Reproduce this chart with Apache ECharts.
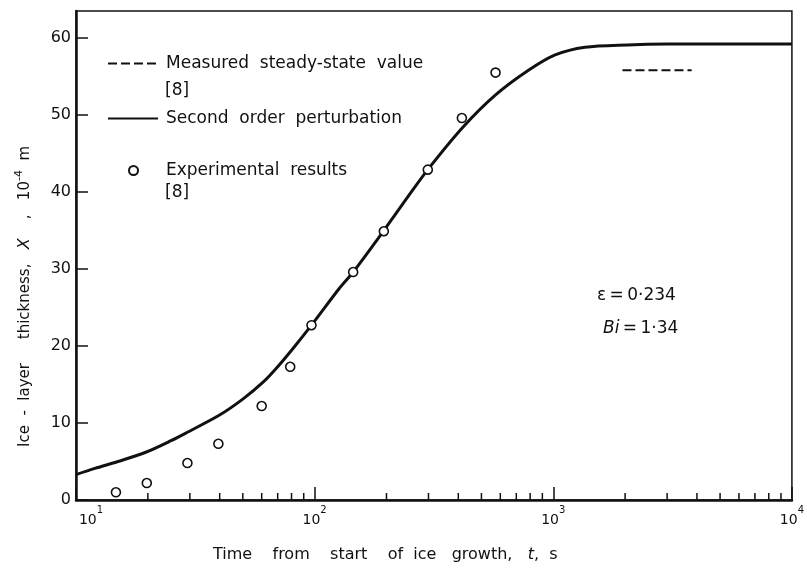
<!DOCTYPE html>
<html>
<head>
<meta charset="utf-8">
<script src="https://cdn.jsdelivr.net/npm/echarts@6/dist/echarts.min.js"></script>
<style>
  html, body { margin: 0; padding: 0; background: #fff; }
  #chart { width: 807px; height: 568px; }
</style>
</head>
<body>
<div id="chart"></div>
<script>
// second order perturbation curve
var curveT = [10, 12, 15, 19.6, 25, 29.3, 39.8, 50, 61.3, 70, 81.8, 97, 127, 145, 194, 219, 241, 298, 418, 573, 787, 1018, 1359, 2040, 3000, 5000, 10000];
var curveY = [3.3, 4.1, 5.0, 6.2, 7.7, 8.8, 11.0, 13.1, 15.4, 17.3, 19.8, 22.7, 27.5, 29.6, 34.9, 37.2, 39.0, 42.9, 48.4, 52.6, 55.8, 57.8, 58.8, 59.1, 59.2, 59.2, 59.2];

// experimental results [8]
var expT = [14.7, 19.8, 29.3, 39.5, 60, 79, 97, 145, 195, 298, 414, 573];
var expY = [1.0, 2.2, 4.8, 7.3, 12.2, 17.3, 22.7, 29.6, 34.9, 42.9, 49.6, 55.5];

// measured steady-state value
var steadyT = [1950, 3800];
var steadyY = [55.8, 55.8];

// minor ticks of the log axis
var minorTicks = [20, 30, 40, 50, 60, 70, 80, 90, 200, 300, 400, 500, 600, 700, 800, 900, 2000, 3000, 4000, 5000, 6000, 7000, 8000, 9000];

var FONT = 'DejaVu Sans';
var INK = '#111';

function zip(a, b) {
    return a.map(function (v, i) { return [v, b[i]]; });
}

function legendBox(name, top, left, w, h, gap) {
    return {
        data: [name],
        orient: 'vertical', left: left, top: top, padding: 0,
        itemWidth: w, itemHeight: h,
        itemStyle: name === 'Experimental  results' ? {} : { opacity: 0 },
        textStyle: { fontFamily: FONT, fontSize: 17, color: INK, padding: [0, 0, 0, gap] },
        selectedMode: false
    };
}

var chart = echarts.init(document.getElementById('chart'));

chart.setOption({
    animation: false,
    backgroundColor: '#fff',
    textStyle: { fontFamily: FONT, color: INK },
    grid: {
        left: 76, right: 9, top: 11, bottom: 68,
        show: true, borderColor: INK, borderWidth: 1.5, backgroundColor: 'transparent'
    },
    xAxis: {
        type: 'log',
        logBase: 10,
        min: 10,
        max: 10000,
        axisLine: { lineStyle: { color: INK, width: 2.5 } },
        axisTick: { inside: true, length: 13, lineStyle: { color: INK, width: 1.5 } },
        splitLine: { show: false },
        axisLabel: {
            margin: 5,
            formatter: function (v) {
                var e = Math.round(Math.log10(v));
                return (e === 1 ? '{f|10}' : '{b|10}') + '{s|' + e + '}';
            },
            rich: {
                b: { fontFamily: FONT, fontSize: 14, color: INK, lineHeight: 22, verticalAlign: 'bottom' },
                f: { fontFamily: FONT, fontSize: 14, color: INK, lineHeight: 22, verticalAlign: 'bottom', padding: [0, 0, 0, 30] },
                s: { fontFamily: FONT, fontSize: 10, color: INK, lineHeight: 22, verticalAlign: 'top' }
            }
        }
    },
    yAxis: {
        type: 'value',
        min: 0,
        max: 63.5,
        interval: 10,
        axisLine: { show: true, lineStyle: { color: INK, width: 2.5 } },
        axisTick: { show: true, inside: true, length: 12, lineStyle: { color: INK, width: 1.5 } },
        splitLine: { show: false },
        axisLabel: {
            margin: 5, fontSize: 16, color: INK, fontFamily: FONT,
            showMaxLabel: false
        },
        name: 'Ice  -  layer     thickness,   {i|X}    ,   10{s|-4}  m',
        nameLocation: 'middle',
        nameGap: 40,
        nameTextStyle: {
            fontFamily: FONT, fontSize: 15, color: INK,
            padding: [0, 82, 0, 0],
            rich: {
                i: { fontFamily: FONT, fontSize: 16, fontStyle: 'italic', color: INK },
                s: { fontFamily: FONT, fontSize: 11, color: INK, verticalAlign: 'top', lineHeight: 22 }
            }
        }
    },
    legend: [
        legendBox('Measured  steady-state  value', 55, 107, 50, 14, 3),
        legendBox('Second  order  perturbation', 110, 107, 50, 14, 3),
        legendBox('Experimental  results', 162, 128, 9, 9, 23)
    ],
    graphic: [
        { type: 'text', left: 165, top: 82, style: { text: '[8]', font: '17px "DejaVu Sans"', fill: INK } },
        { type: 'text', left: 165, top: 184, style: { text: '[8]', font: '17px "DejaVu Sans"', fill: INK } },
        {
            type: 'text', left: 597, top: 287,
            style: { text: 'ε\u2009=\u20090·234', font: '17px "DejaVu Sans"', fill: INK }
        },
        {
            type: 'text', left: 603, top: 320,
            style: {
                text: '{i|Bi}\u2009=\u20091·34',
                font: '17px "DejaVu Sans"', fill: INK,
                rich: { i: { fontFamily: FONT, fontSize: 17, fontStyle: 'italic', fill: INK } }
            }
        },
        {
            type: 'text', left: 213, top: 547,
            style: {
                text: 'Time    from    start    of  ice   growth,   {i|t},  s',
                font: '16px "DejaVu Sans"', fill: INK,
                rich: { i: { fontFamily: FONT, fontSize: 16, fontStyle: 'italic', fill: INK } }
            }
        }
    ],
    series: [
        {
            name: 'Measured  steady-state  value',
            type: 'line',
            data: zip(steadyT, steadyY),
            showSymbol: false,
            symbol: 'none',
            lineStyle: { color: INK, width: 2, type: [9, 4] },
            itemStyle: { color: INK }
        },
        {
            name: 'Second  order  perturbation',
            type: 'line',
            data: zip(curveT, curveY),
            showSymbol: false,
            symbol: 'none',
            smooth: 0.3,
            lineStyle: { color: INK, width: 3 },
            itemStyle: { color: INK }
        },
        {
            name: 'Experimental  results',
            type: 'scatter',
            data: zip(expT, expY),
            symbol: 'circle',
            symbolSize: 9,
            itemStyle: { color: '#fff', borderColor: INK, borderWidth: 1.6, opacity: 1 },
            z: 5
        },
        {
            type: 'custom',
            data: minorTicks.map(function (v) { return [v, 0]; }),
            renderItem: function (params, api) {
                var p = api.coord([api.value(0), api.value(1)]);
                return {
                    type: 'line',
                    shape: { x1: p[0], y1: p[1], x2: p[0], y2: p[1] - 7 },
                    style: { stroke: INK, lineWidth: 1.5 }
                };
            },
            silent: true,
            z: 3
        }
    ]
});
</script>
</body>
</html>
